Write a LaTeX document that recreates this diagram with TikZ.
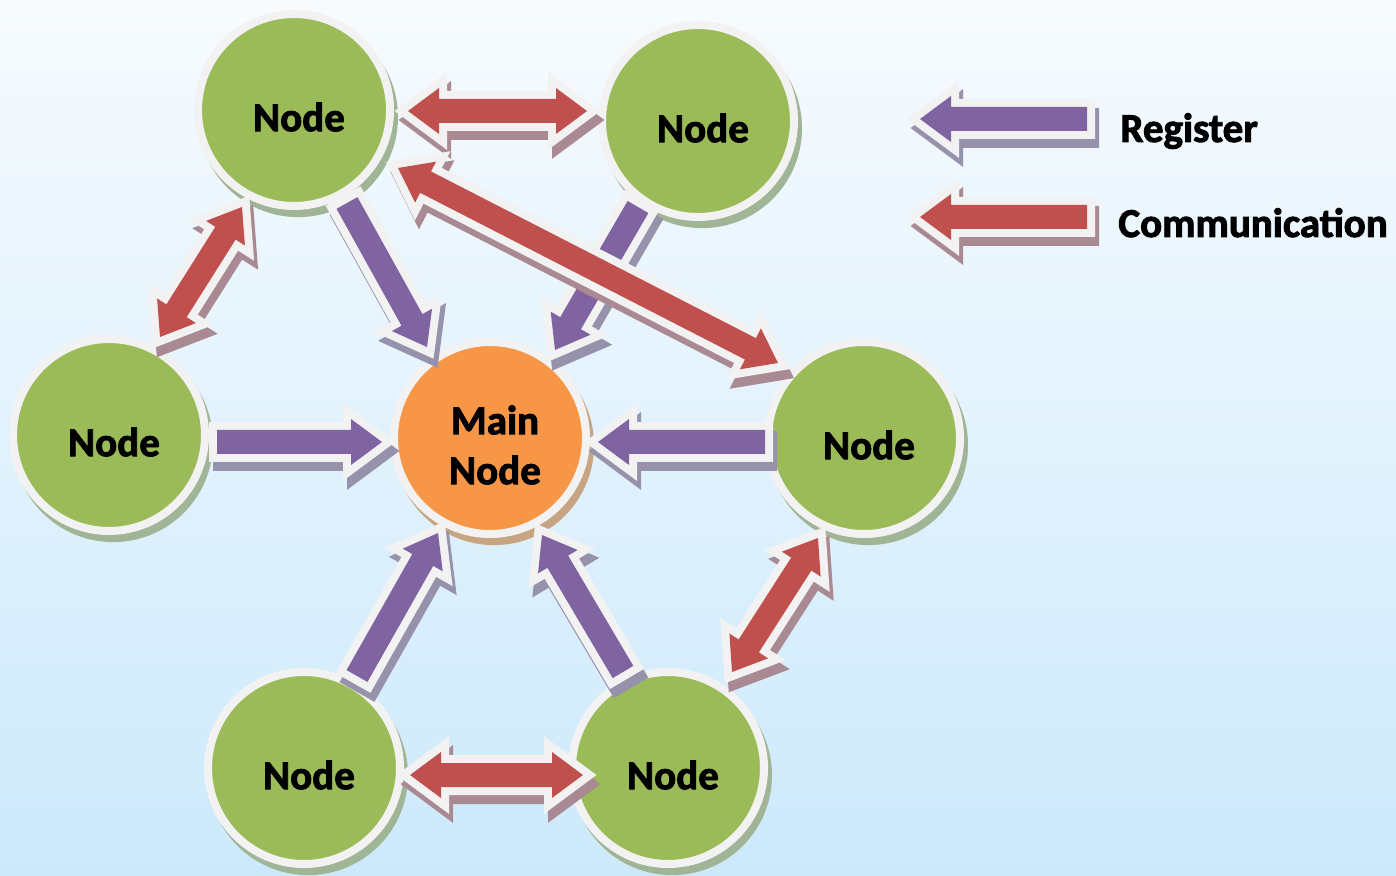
\documentclass[tikz,border=0pt]{standalone}
\usepackage{fontspec}
\setmainfont{Carlito}[BoldFeatures={FakeBold=2.2}]
\usetikzlibrary{calc,shadows}

% palette
\definecolor{bgtop}{RGB}{247,251,254}
\definecolor{bgbot}{RGB}{204,233,251}
\definecolor{ngreen}{HTML}{9BBB59}
\definecolor{norange}{HTML}{F79646}
\definecolor{apurple}{HTML}{8064A2}
\definecolor{ared}{HTML}{C0504D}
\definecolor{rim}{RGB}{242,242,242}
\definecolor{shpurple}{RGB}{150,146,172}
\definecolor{shred}{RGB}{170,138,146}
\definecolor{shgreen}{RGB}{160,180,150}
\definecolor{shorange}{RGB}{200,165,130}

% block arrow geometry: shaft half width, head half width, head length
\newcommand\shw{6pt}
\newcommand\hhw{11.5pt}
\newcommand\hlen{15.5pt}

% outline of a one-headed block arrow from (#1) to its tip (#2); needs (hb)
\newcommand\onepath[2]{($(#1)!\shw!90:(#2)$) -- ($(hb)!\shw!-90:(#1)$) -- ($(hb)!\hhw!-90:(#1)$) -- (#2) -- ($(hb)!\hhw!90:(#1)$) -- ($(hb)!\shw!90:(#1)$) -- ($(#1)!\shw!-90:(#2)$) -- cycle}
% outline of a two-headed block arrow between tips (#1) and (#2); needs (ha),(hb)
\newcommand\twopath[2]{(#1) -- ($(ha)!\hhw!90:(#2)$) -- ($(ha)!\shw!90:(#2)$) -- ($(hb)!\shw!-90:(#1)$) -- ($(hb)!\hhw!-90:(#1)$) -- (#2) -- ($(hb)!\hhw!90:(#1)$) -- ($(hb)!\shw!90:(#1)$) -- ($(ha)!\shw!-90:(#2)$) -- ($(ha)!\hhw!-90:(#2)$) -- cycle}

% #1 colour, #2 shadow colour, #3 tail, #4 tip
\newcommand\onearrow[4]{%
  \coordinate (hb) at ($(#4)!\hlen!(#3)$);
  \path[arrshadow, fill=#2, draw=#2] \onepath{#3}{#4};
  \path[arrrim] \onepath{#3}{#4};
  \path[fill=#1] \onepath{#3}{#4};
}
% #1 colour, #2 shadow colour, #3 and #4 the two tips
\newcommand\twoarrow[4]{%
  \coordinate (ha) at ($(#3)!\hlen!(#4)$);
  \coordinate (hb) at ($(#4)!\hlen!(#3)$);
  \path[arrshadow, fill=#2, draw=#2] \twopath{#3}{#4};
  \path[arrrim] \twopath{#3}{#4};
  \path[fill=#1] \twopath{#3}{#4};
}

\tikzset{
  arrshadow/.style={line width=8pt, line join=miter, transform canvas={xshift=2pt, yshift=-4.5pt}},
  arrrim/.style={fill=rim, draw=rim, line width=8pt, line join=miter},
  txt/.style={font=\fontsize{20.5}{25}\selectfont\bfseries, text=black, inner sep=0pt},
  ball/.style={circle, minimum size=96pt, inner sep=0pt, outer sep=0pt,
    draw=rim, line width=4pt,
    general shadow={fill=#1, shadow xshift=2pt, shadow yshift=-3.5pt, shadow scale=1.04}},
  peer/.style={ball=shgreen, fill=ngreen},
  hub/.style={ball=shorange, fill=norange},
  word/.style={label={[txt, xshift=2.5pt, yshift=-3.5pt, align=center]center:#1}}
}

\begin{document}
\begin{tikzpicture}[x=0.5pt, y=-0.5pt]
  \useasboundingbox (0,0) rectangle (1396,876);
  \shade[top color=bgtop, bottom color=bgbot] (0,0) rectangle (1396,876);

  % nodes
  \node[peer, word=Node] (TL) at (294,110) {};
  \node[peer, word=Node] (TR) at (698,121) {};
  \node[peer, word=Node] (L)  at (109,435) {};
  \node[hub,  word={Main\\Node}] (M) at (490,438) {};
  \node[peer, word=Node] (R)  at (864,438) {};
  \node[peer, word=Node] (BL) at (304,768) {};
  \node[peer, word=Node] (BR) at (668,768) {};

  % arrow ends, placed around the nodes
  \coordinate (tltr1) at ($(TL)+(114,1)$);
  \coordinate (tltr2) at ($(TR)+(-111,-10)$);
  \coordinate (tlm1)  at ($(TL)+(53,93)$);
  \coordinate (tlm2)  at ($(M)+(-63,-91)$);
  \coordinate (trm1)  at ($(TR)+(-60,86)$);
  \coordinate (trm2)  at ($(M)+(65,-88)$);
  \coordinate (tlr1)  at ($(TL)+(104,58)$);
  \coordinate (tlr2)  at ($(R)+(-86,-75)$);
  \coordinate (tll1)  at ($(TL)+(-52,97)$);
  \coordinate (tll2)  at ($(L)+(51,-98)$);
  \coordinate (lm1)   at ($(L)+(108,7)$);
  \coordinate (lm2)   at ($(M)+(-108,4)$);
  \coordinate (rm1)   at ($(R)+(-99,4)$);
  \coordinate (rm2)   at ($(M)+(108,4)$);
  \coordinate (rbr1)  at ($(R)+(-46,100)$);
  \coordinate (rbr2)  at ($(BR)+(64,-96)$);
  \coordinate (blm1)  at ($(BL)+(53,-92)$);
  \coordinate (blm2)  at ($(M)+(-52,95)$);
  \coordinate (brm1)  at ($(BR)+(-45,-96)$);
  \coordinate (brm2)  at ($(M)+(52,97)$);
  \coordinate (blbr1) at ($(BL)+(106,7)$);
  \coordinate (blbr2) at ($(BR)+(-85,7)$);

  % registration (purple) and communication (red) arrows
  \twoarrow{ared}{shred}{tltr1}{tltr2}
  \onearrow{apurple}{shpurple}{tlm1}{tlm2}
  \onearrow{apurple}{shpurple}{trm1}{trm2}
  \twoarrow{ared}{shred}{tlr1}{tlr2}
  \twoarrow{ared}{shred}{tll1}{tll2}
  \onearrow{apurple}{shpurple}{lm1}{lm2}
  \onearrow{apurple}{shpurple}{rm1}{rm2}
  \twoarrow{ared}{shred}{rbr1}{rbr2}
  \onearrow{apurple}{shpurple}{blm1}{blm2}
  \onearrow{apurple}{shpurple}{brm1}{brm2}
  \twoarrow{ared}{shred}{blbr1}{blbr2}

  % legend
  \node[txt, anchor=base west] (reg) at (1120,142) {Register};
  \node[txt, anchor=base west] (com) at (1118,237) {Communication};
  \coordinate (reg1) at ($(reg.base west)+(-33,-23)$);
  \coordinate (reg2) at ($(reg.base west)+(-200,-23)$);
  \coordinate (com1) at ($(com.base west)+(-31,-20)$);
  \coordinate (com2) at ($(com.base west)+(-198,-20)$);
  \onearrow{apurple}{shpurple}{reg1}{reg2}
  \onearrow{ared}{shred}{com1}{com2}
\end{tikzpicture}
\end{document}
